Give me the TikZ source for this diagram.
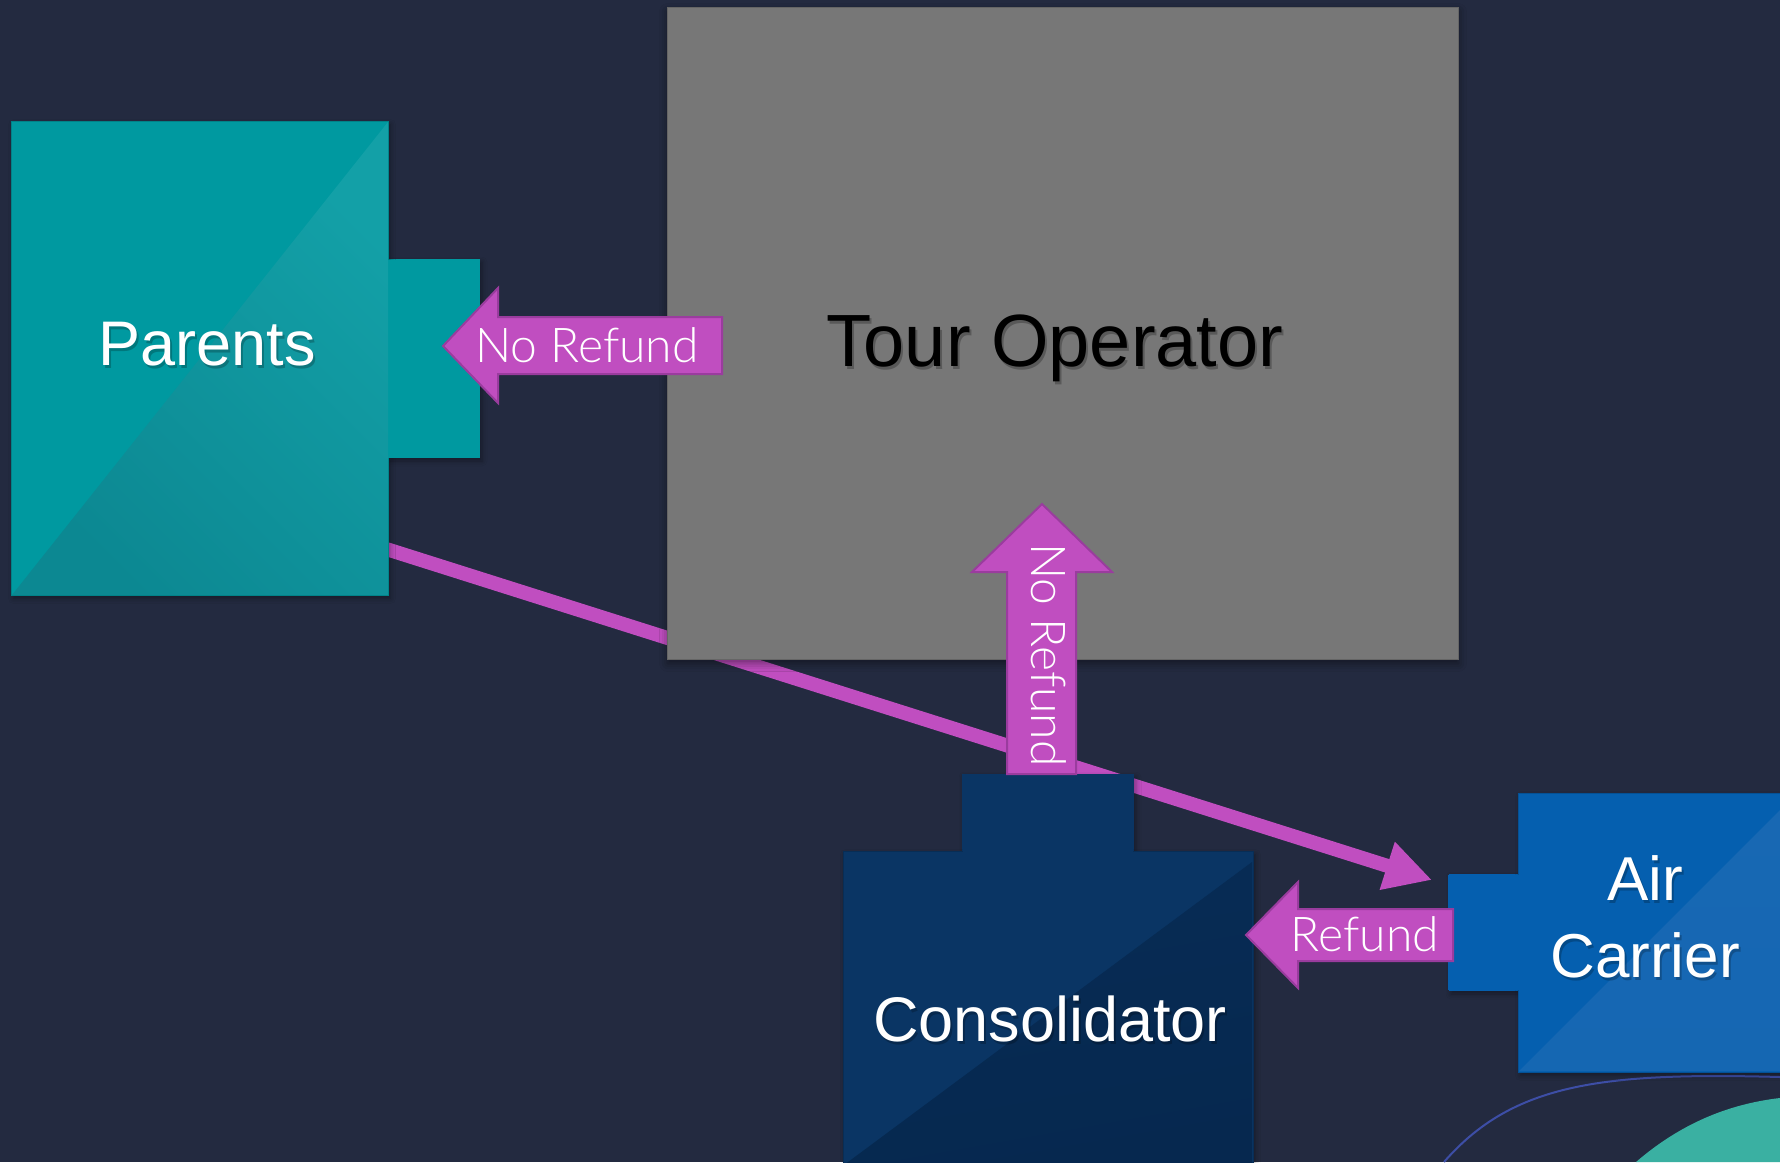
\documentclass[tikz,border=0pt]{standalone}
\usepackage{fontspec}
\setmainfont{Liberation Sans}
\newfontfamily\lblfont{Lato Light}
\usetikzlibrary{arrows.meta,shadows.blur}

\definecolor{bg}{HTML}{232A40}
\definecolor{opgray}{HTML}{777777}
\definecolor{teal}{HTML}{0099A0}
\definecolor{tealLight}{HTML}{13A0A7}
\definecolor{tealDark}{HTML}{0C8892}
\definecolor{navy}{HTML}{0A3564}
\definecolor{navyDark}{HTML}{06284F}
\definecolor{carrier}{HTML}{055FAF}
\definecolor{carrierLight}{HTML}{1868B3}
\definecolor{mag}{HTML}{C04EC0}
\definecolor{magEdge}{HTML}{9A3C9E}
\definecolor{arcblue}{HTML}{3D4EA6}
\definecolor{arcteal}{HTML}{3AB0A2}

\begin{document}
\begin{tikzpicture}[x=1pt,y=-1pt,
  boxfill/.style={fill=#1, draw=#1!85!black, line width=1pt},
  softshadow/.style={blur shadow={shadow xshift=2pt, shadow yshift=-3pt,
      shadow blur radius=5pt, shadow opacity=35}},
  bigname/.style={text=white, inner sep=0pt, anchor=base,
      font=\fontsize{63}{70}\selectfont},
  namedrop/.style={text=black, opacity=0.22, inner sep=0pt, anchor=base,
      font=\fontsize{63}{70}\selectfont},
  blockarrow/.style={fill=mag, draw=magEdge, line width=2pt, line join=miter},
  arrowtext/.style={text=white, inner sep=0pt, anchor=base,
      font=\lblfont\fontsize{48}{56}\selectfont},
  flowline/.style={draw=mag, line width=14pt,
      -{Triangle[length=47pt,width=47pt]}}
]
% canvas
\fill[bg] (0,0) rectangle (1780,1162);
\useasboundingbox (0,0) rectangle (1780,1162);

% decorative arcs in the lower right corner
\fill[arcteal] (1636,1162) .. controls (1680,1124) and (1728,1104) .. (1780,1098)
  -- (1780,1162) -- cycle;
\draw[arcblue, line width=2pt] (1444,1162) .. controls (1512,1084) and (1600,1072) .. (1780,1077);

% thin connector from Parents to Air Carrier (runs beneath the boxes)
\coordinate (parentsOut) at (380,547);
\coordinate (carrierIn) at (1432,880);
\path[flowline] (parentsOut) -- (carrierIn);

% Tour Operator
\node[fill=opgray, draw=opgray!85!black, line width=1pt, inner sep=0pt,
      minimum width=791pt, minimum height=652pt, anchor=north west,
      blur shadow={shadow xshift=0pt, shadow yshift=-4pt, shadow blur radius=8pt, shadow opacity=45}]
      (tour) at (667,7) {};
\node[text=black, opacity=0.25, inner sep=0pt, anchor=base,
      font=\fontsize{74}{80}\selectfont] (tourS) at (1057,369) {Tour Operator};
\node[text=black, inner sep=0pt, anchor=base,
      font=\fontsize{74}{80}\selectfont] (tourT) at (1055,366) {Tour Operator};

% Parents
\fill[teal, softshadow] (388,259) rectangle (480,458);
\node[boxfill=teal, inner sep=0pt, minimum width=377pt, minimum height=474pt,
      anchor=north west, softshadow] (parents) at (11,121) {};
\fill[teal] (386,260) rectangle (480,458);
\shade[left color=tealLight, right color=tealDark, shading angle=-45]
  (12,595) -- (388,122) -- (388,595) -- cycle;
\node[namedrop] (parentsS) at (209,368) {Parents};
\node[bigname] (parentsT) at (207,365) {Parents};

% Consolidator
\fill[navy, softshadow] (962,774) rectangle (1134,852);
\node[boxfill=navy, inner sep=0pt, minimum width=410pt, minimum height=320pt,
      anchor=north west, softshadow] (consol) at (843,851) {};
\fill[navy] (963,775) rectangle (1133,853);
\shade[top color=navyDark!70!navy, bottom color=navyDark, shading angle=10]
  (844,1165) -- (1252,862) -- (1252,1165) -- cycle;
\node[namedrop] (consolS) at (1052,1044) {Consolidator};
\node[bigname] (consolT) at (1050,1041) {Consolidator};

% Air Carrier
\fill[carrier, softshadow] (1449,874) rectangle (1520,991);
\node[boxfill=carrier, inner sep=0pt, minimum width=270pt, minimum height=279pt,
      anchor=north west, softshadow] (air) at (1518,793) {};
\fill[carrier] (1448,875) rectangle (1520,990);
\shade[top color=carrierLight, bottom color=carrierLight!85!carrier, shading angle=0]
  (1519,1071) -- (1780,810) -- (1780,1071) -- cycle;
\node[namedrop, font=\fontsize{62}{70}\selectfont] (airS) at (1647,903) {Air};
\node[bigname, font=\fontsize{62}{70}\selectfont] (airT) at (1645,900) {Air};
\node[namedrop, font=\fontsize{62}{70}\selectfont] (carrierS) at (1647,980) {Carrier};
\node[bigname, font=\fontsize{62}{70}\selectfont] (carrierT) at (1645,977) {Carrier};

% block arrows with their labels
\draw[blockarrow] (443,346) -- (498,288) -- (498,317) -- (722,317) -- (722,374)
  -- (498,374) -- (498,403) -- cycle;
\node[arrowtext] (noRefundLeft) at (587,362) {No Refund};

\draw[blockarrow] (1042,504) -- (1112,572) -- (1076,572) -- (1076,774) -- (1007,774)
  -- (1007,572) -- (972,572) -- cycle;
\node[arrowtext, rotate=-90] (noRefundUp) at (1031,655) {No Refund};

\draw[blockarrow] (1246,935) -- (1298,882) -- (1298,909) -- (1453,909) -- (1453,961)
  -- (1298,961) -- (1298,988) -- cycle;
\node[arrowtext] (refundT) at (1365,951) {Refund};
\end{tikzpicture}
\end{document}
